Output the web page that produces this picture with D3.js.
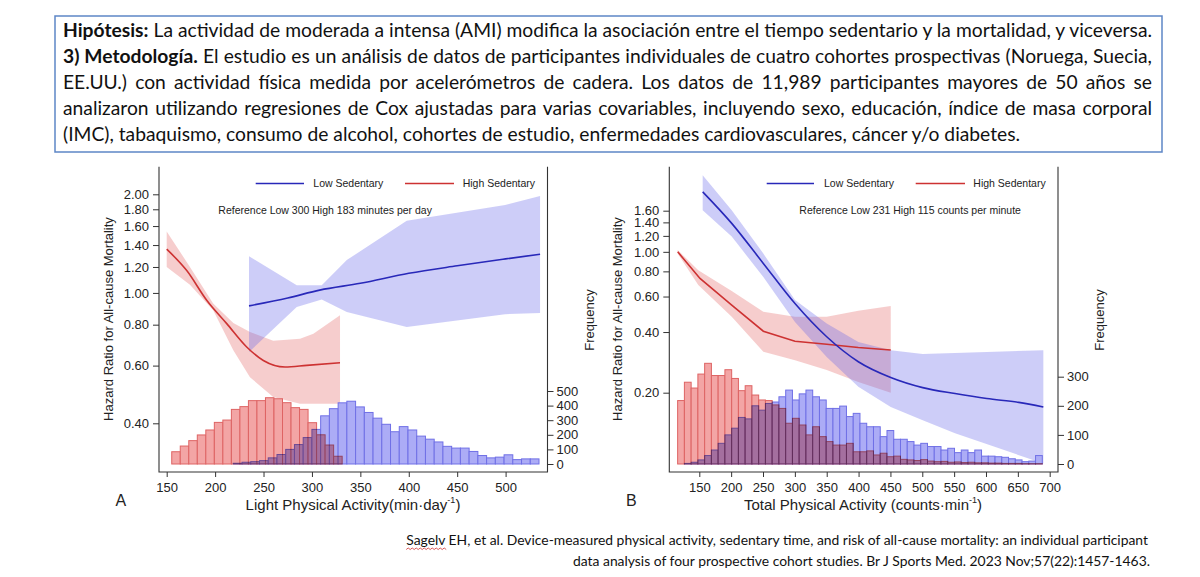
<!DOCTYPE html>
<html><head><meta charset="utf-8">
<script src="https://cdn.jsdelivr.net/npm/d3@7/dist/d3.min.js"></script>
<style>
html,body{margin:0;padding:0;background:#fff;}
svg{display:block;}
</style></head><body>
<svg id="chart" width="1200" height="577"></svg>
<script>
// ---------------- DATA ----------------
// Panel A: Light Physical Activity (min/day)
const aXTicks = [150, 200, 250, 300, 350, 400, 450, 500];
const aYTicks = [0.4, 0.6, 0.8, 1.0, 1.2, 1.4, 1.6, 1.8, 2.0];
const aFreqTicks = [0, 100, 200, 300, 400, 500];
const aLowLine = [[235, 0.913], [275, 0.965], [308, 1.02], [350, 1.07], [400, 1.148], [450, 1.21], [500, 1.27], [535.6, 1.313]];
const aLowBand = [[235, 0.66, 1.295], [284.3, 0.906, 1.056], [310.1, 0.955, 1.056], [336, 0.875, 1.26], [397.9, 0.787, 1.66], [499.5, 0.861, 1.855], [535.6, 0.869, 1.976]];
const aHighLine = [[150, 1.36], [170.7, 1.17], [191.3, 0.95], [212, 0.806], [232.6, 0.684], [249.8, 0.622], [272.2, 0.594], [294.6, 0.601], [329, 0.612]];
const aHighBand = [[150, 1.20, 1.54], [174, 1.06, 1.20], [198, 0.885, 0.928], [218.8, 0.668, 0.81], [236, 0.553, 0.76], [260, 0.481, 0.714], [287.7, 0.459, 0.725], [301.5, 0.459, 0.751], [329, 0.459, 0.855]];
const aLowHistStart = 218.8, aLowHistWidth = 9.02;
const aLowHist = [5, 12, 16, 23, 42, 65, 100, 133, 181, 237, 330, 379, 419, 430, 391, 353, 314, 272, 221, 256, 233, 191, 170, 151, 121, 109, 109, 86, 58, 42, 47, 63, 30, 35, 35];
const aHighHistStart = 155.2, aHighHistWidth = 8.8;
const aHighHist = [84, 123, 160, 199, 233, 285, 301, 374, 393, 434, 434, 454, 447, 420, 386, 374, 283, 200, 130, 53];

// Panel B: Total Physical Activity (counts/min)
const bXTicks = [150, 200, 250, 300, 350, 400, 450, 500, 550, 600, 650, 700];
const bYTicks = [0.2, 0.4, 0.6, 0.8, 1.0, 1.2, 1.4, 1.6];
const bFreqTicks = [0, 100, 200, 300];
const bLowLine = [[155.3, 1.985], [200.9, 1.384], [250.5, 0.876], [300.2, 0.554], [350, 0.379], [399.6, 0.285], [450.5, 0.238], [500.7, 0.212], [551.4, 0.198], [601.2, 0.187], [651.4, 0.179], [690, 0.170]];
const bLowBand = [[155.3, 1.61, 2.40], [200.9, 1.19, 1.61], [250.5, 0.751, 0.98], [300.2, 0.449, 0.576], [350, 0.301, 0.441], [399.6, 0.214, 0.357], [450.5, 0.170, 0.325], [500.7, 0.146, 0.311], [551.4, 0.126, 0.315], [690, 0.089, 0.325]];
const bHighLine = [[116.1, 1.00], [151.1, 0.738], [200.9, 0.544], [250.5, 0.404], [300.2, 0.36], [350, 0.348], [399.6, 0.335], [450.5, 0.326]];
const bHighBand = [[116.1, 0.98, 1.02], [148.4, 0.684, 0.811], [200.9, 0.476, 0.64], [250.5, 0.319, 0.504], [300.2, 0.29, 0.476], [350, 0.259, 0.476], [399.6, 0.226, 0.51], [450.5, 0.2, 0.538]];
const bHistStart = 116, bHistWidth = 10.6;
const bLowHist = [0, 2, 6, 14, 29, 48, 71, 100, 123, 160, 155, 200, 185, 208, 213, 231, 254, 220, 241, 254, 231, 220, 191, 191, 199, 163, 174, 140, 128, 128, 94, 115, 85, 85, 77, 65, 71, 60, 60, 48, 54, 39, 48, 39, 48, 27, 27, 25, 23, 18, 14, 8, 10, 29];
const bHighHist = [218, 281, 261, 309, 346, 304, 304, 324, 294, 252, 269, 237, 220, 218, 203, 191, 140, 157, 134, 100, 128, 94, 77, 65, 65, 71, 42, 42, 45, 31, 37, 25, 27, 16, 14, 12, 15, 10, 8, 9, 6, 7, 5, 6, 4, 4, 3, 3, 2, 2, 2, 1, 1, 1];

const legendLabels = ["Low Sedentary", "High Sedentary"];
const aRefText = "Reference Low 300 High 183 minutes per day";
const bRefText = "Reference Low 231 High 115 counts per minute";
const yTitle = "Hazard Ratio for All-cause Mortality";
const freqTitle = "Frequency";

const boxLines = [
  [{t: "Hipótesis:", b: true}, {t: " La actividad de moderada a intensa (AMI) modifica la asociación entre el tiempo sedentario y la mortalidad, y viceversa."}],
  [{t: "3) Metodología.", b: true}, {t: " El estudio es un análisis de datos de participantes individuales de cuatro cohortes prospectivas (Noruega, Suecia,"}],
  [{t: "EE.UU.) con actividad física medida por acelerómetros de cadera. Los datos de 11,989 participantes mayores de 50 años se"}],
  [{t: "analizaron utilizando regresiones de Cox ajustadas para varias covariables, incluyendo sexo, educación, índice de masa corporal"}],
  [{t: "(IMC), tabaquismo, consumo de alcohol, cohortes de estudio, enfermedades cardiovasculares, cáncer y/o diabetes."}]
];
const citeLines = [
  "Sagelv EH, et al. Device-measured physical activity, sedentary time, and risk of all-cause mortality: an individual participant",
  "data analysis of four prospective cohort studies. Br J Sports Med. 2023 Nov;57(22):1457-1463."
];

// ---------------- DRAWING ----------------
const svg = d3.select("#chart");
const SANS = "'Liberation Sans', Arial, Helvetica, sans-serif";
const BLUE = "rgb(40,40,185)", RED = "rgb(205,50,50)";

function drawPanel(p) {
  const x = d3.scaleLinear().domain(p.xDom).range(p.xRange);
  const y = d3.scaleLog().domain(p.yDom).range(p.yRange);
  const f = d3.scaleLinear().domain(p.fDom).range(p.fRange);
  const g = svg.append("g").attr("font-family", SANS);
  const clipId = "clip" + p.id;
  g.append("clipPath").attr("id", clipId).append("rect")
    .attr("x", p.left).attr("y", p.top).attr("width", p.right - p.left).attr("height", p.bottom - p.top);
  const plot = g.append("g").attr("clip-path", `url(#${clipId})`);

  const area = d3.area().x(d => x(d[0])).y0(d => y(d[1])).y1(d => y(d[2]));
  plot.append("path").datum(p.highBand).attr("d", area).attr("fill", "rgb(228,100,100)").attr("fill-opacity", 0.32);
  plot.append("path").datum(p.lowBand).attr("d", area).attr("fill", "rgb(100,100,232)").attr("fill-opacity", 0.32);

  const bars = plot.append("g").style("isolation", "isolate");
  bars.append("g").selectAll("rect").data(p.lowHist).join("rect")
    .attr("x", (d, i) => x(p.lowStart + i * p.lowW))
    .attr("width", (d, i) => x(p.lowStart + (i + 1) * p.lowW) - x(p.lowStart + i * p.lowW))
    .attr("y", d => f(d)).attr("height", d => f(0) - f(d))
    .attr("fill", "rgb(172,172,246)").attr("stroke", "rgb(112,112,230)").attr("stroke-width", 1);
  bars.append("g").style("mix-blend-mode", "multiply").selectAll("rect").data(p.highHist).join("rect")
    .attr("x", (d, i) => x(p.highStart + i * p.highW))
    .attr("width", (d, i) => x(p.highStart + (i + 1) * p.highW) - x(p.highStart + i * p.highW))
    .attr("y", d => f(d)).attr("height", d => f(0) - f(d))
    .attr("fill", "rgb(243,165,165)").attr("stroke", "rgb(222,100,100)").attr("stroke-width", 1);

  const line = d3.line().x(d => x(d[0])).y(d => y(d[1])).curve(p.curve);
  plot.append("path").datum(p.highLine).attr("d", d3.line().x(d => x(d[0])).y(d => y(d[1])).curve(p.highCurve))
    .attr("fill", "none").attr("stroke", RED).attr("stroke-width", 1.6);
  plot.append("path").datum(p.lowLine).attr("d", line)
    .attr("fill", "none").attr("stroke", BLUE).attr("stroke-width", 1.6);

  // frame (left, right, bottom)
  g.append("path").attr("d", `M${p.left},${p.top}V${p.bottom}H${p.right}V${p.top}`)
    .attr("fill", "none").attr("stroke", "#333").attr("stroke-width", 1.1);

  const styleAxis = sel => {
    sel.select(".domain").remove();
    sel.selectAll(".tick line").attr("stroke", "#333");
    sel.selectAll(".tick text").attr("fill", "#222").attr("font-size", 13).attr("font-family", SANS);
  };
  g.append("g").attr("transform", `translate(${p.left},0)`)
    .call(d3.axisLeft(y).tickValues(p.yTicks).tickFormat(d3.format(".2f")).tickSize(6).tickPadding(4)).call(styleAxis);
  g.append("g").attr("transform", `translate(${p.right},0)`)
    .call(d3.axisRight(f).tickValues(p.fTicks).tickFormat(d3.format("d")).tickSize(6).tickPadding(3)).call(styleAxis);
  g.append("g").attr("transform", `translate(0,${p.bottom})`)
    .call(d3.axisBottom(x).tickValues(p.xTicks).tickFormat(d3.format("d")).tickSize(5).tickPadding(6)).call(styleAxis);

  // legend
  const lg = g.append("g").attr("font-size", 10.5).attr("fill", "#222");
  lg.append("line").attr("x1", p.leg[0]).attr("x2", p.leg[1]).attr("y1", p.legY).attr("y2", p.legY).attr("stroke", BLUE).attr("stroke-width", 1.5);
  lg.append("text").attr("x", p.leg[2]).attr("y", p.legY + 3.8).text(legendLabels[0]);
  lg.append("line").attr("x1", p.leg[3]).attr("x2", p.leg[4]).attr("y1", p.legY).attr("y2", p.legY).attr("stroke", RED).attr("stroke-width", 1.5);
  lg.append("text").attr("x", p.leg[5]).attr("y", p.legY + 3.8).text(legendLabels[1]);
  g.append("text").attr("x", p.refX).attr("y", p.refY).attr("font-size", 10.5).attr("fill", "#222").text(p.refText);

  // titles
  g.append("text").attr("transform", `translate(${p.yTitleX},319) rotate(-90)`).attr("text-anchor", "middle")
    .attr("font-size", 13).attr("fill", "#222").text(yTitle);
  g.append("text").attr("transform", `translate(${p.freqX},320) rotate(-90)`).attr("text-anchor", "middle")
    .attr("font-size", 13).attr("fill", "#222").text(freqTitle);
  const xt = g.append("text").attr("x", p.xTitleX).attr("y", 510).attr("text-anchor", "middle")
    .attr("font-size", 15).attr("fill", "#222");
  xt.append("tspan").text(p.xTitle[0]);
  xt.append("tspan").attr("font-size", 9).attr("dy", -7).text("-1");
  xt.append("tspan").attr("dy", 7).text(")");
  g.append("text").attr("x", p.letterX).attr("y", 506).attr("font-size", 16).attr("fill", "#222").text(p.letter);
}

drawPanel({
  id: "A", left: 159, right: 547.5, top: 166.7, bottom: 472,
  xDom: [150, 500], xRange: [166.7, 505.6], yDom: [0.4, 2], yRange: [423.3, 194.3], fDom: [0, 500], fRange: [464, 391],
  xTicks: aXTicks, yTicks: aYTicks, fTicks: aFreqTicks,
  lowLine: aLowLine, lowBand: aLowBand, highLine: aHighLine, highBand: aHighBand,
  lowHist: aLowHist, lowStart: aLowHistStart, lowW: aLowHistWidth,
  highHist: aHighHist, highStart: aHighHistStart, highW: aHighHistWidth,
  curve: d3.curveMonotoneX, highCurve: d3.curveMonotoneX,
  leg: [255.7, 304, 313.3, 405, 454, 462.7], legY: 183.5, refX: 218.3, refY: 213.5, refText: aRefText,
  yTitleX: 112.5, freqX: 594, xTitleX: 353, xTitle: ["Light Physical Activity(min·day"], letterX: 115.5, letter: "A"
});
drawPanel({
  id: "B", left: 669.3, right: 1058, top: 166.7, bottom: 472,
  xDom: [150, 700], xRange: [699.3, 1049.7], yDom: [0.2, 1.6], yRange: [392.7, 210.7], fDom: [0, 300], fRange: [464, 376.7],
  xTicks: bXTicks, yTicks: bYTicks, fTicks: bFreqTicks,
  lowLine: bLowLine, lowBand: bLowBand, highLine: bHighLine, highBand: bHighBand,
  lowHist: bLowHist, lowStart: bHistStart, lowW: bHistWidth,
  highHist: bHighHist, highStart: bHistStart, highW: bHistWidth,
  curve: d3.curveMonotoneX, highCurve: d3.curveLinear,
  leg: [766.7, 814, 824, 915.7, 965, 973.3], legY: 183.5, refX: 799.3, refY: 214, refText: bRefText,
  yTitleX: 622, freqX: 1104, xTitleX: 863, xTitle: ["Total Physical Activity (counts·min"], letterX: 626, letter: "B"
});

// ---------------- TEXT BOX ----------------
const BODY = "Lato, 'Open Sans', 'Noto Sans', sans-serif";
svg.insert("rect", ":first-child").attr("x", 55).attr("y", 16).attr("width", 1107).attr("height", 136)
  .attr("fill", "#fff").attr("stroke", "#5d86c6").attr("stroke-width", 1.5);
const tg = svg.append("g").attr("font-family", BODY).attr("fill", "#111");
const W = 1089, TX = 63;
const texts = boxLines.map((segs, i) => {
  const t = tg.append("text").attr("x", TX).attr("y", 37 + 26 * i).attr("font-size", 18);
  segs.forEach(s => t.append("tspan").attr("font-weight", s.b ? 700 : 400).text(s.t));
  return t;
});
const w0 = Math.max(texts[0].node().getComputedTextLength(), texts[1].node().getComputedTextLength());
const fs = 18 * W / w0;
texts.forEach(t => t.attr("font-size", fs));
texts.slice(0, 4).forEach((t, i) => {
  const full = boxLines[i].map(s => s.t).join("");
  const n = (full.match(/ /g) || []).length;
  const w = t.node().getComputedTextLength();
  t.attr("word-spacing", Math.max(0, (W - w) / n));
});

// ---------------- CITATION ----------------
const cg = svg.append("g").attr("font-family", BODY).attr("fill", "#111");
const c2 = cg.append("text").attr("x", 1150).attr("y", 566).attr("text-anchor", "end").attr("font-size", 14).text(citeLines[1]);
const cfs = 14 * 578 / c2.node().getComputedTextLength();
c2.attr("font-size", cfs);
const c1 = cg.append("text").attr("x", 1148).attr("y", 545).attr("text-anchor", "end").attr("font-size", cfs).text(citeLines[0]);
// spell-check underline under first word
const startX = 1148 - c1.node().getComputedTextLength();
const wordW = c1.node().getSubStringLength(0, 6);
let wp = `M${startX},549.5`;
for (let xx = startX, k = 0; xx < startX + wordW; xx += 2, k++) wp += `L${xx + 2},${k % 2 ? 549.5 : 548}`;
cg.append("path").attr("d", wp).attr("fill", "none").attr("stroke", "#d03030").attr("stroke-width", 0.8);
</script>
</body></html>
